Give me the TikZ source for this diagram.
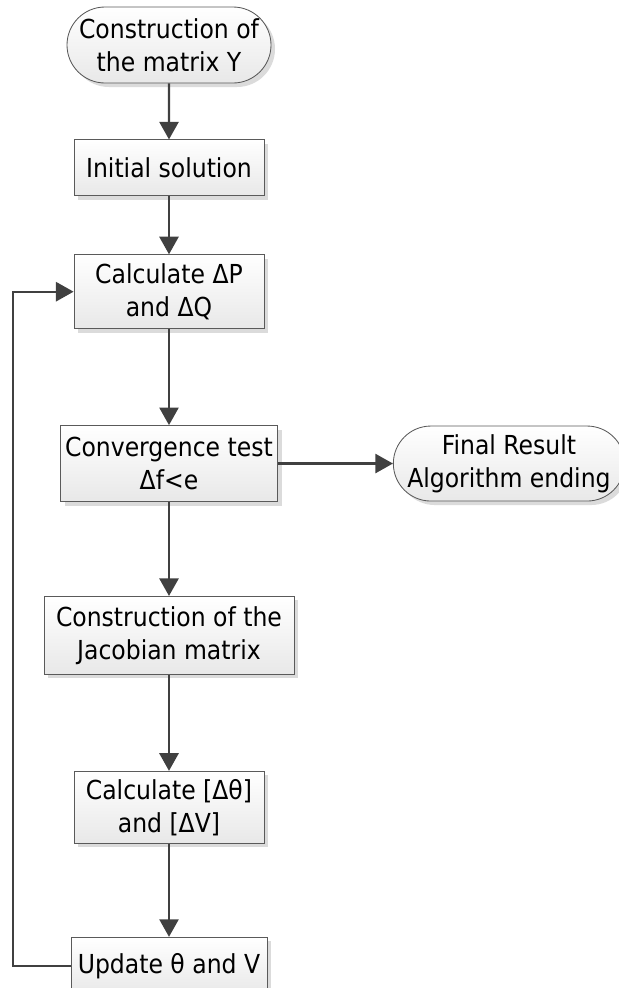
\documentclass[tikz,border=0pt]{standalone}
\usepackage{fontspec}
\setmainfont{DejaVu Sans Condensed}
\usetikzlibrary{positioning,arrows.meta,calc,shapes.misc,shadows}

\definecolor{linegray}{HTML}{404040}
\definecolor{boxgray}{HTML}{5A5A5A}

\begin{document}
\begin{tikzpicture}[
  node distance=1.4cm and 2.9cm,
  font=\fontsize{18.6}{23.5}\selectfont,
  box/.style={rectangle, draw=boxgray, line width=0.6pt, align=center,
    top color=white, bottom color=black!9,
    drop shadow={shadow xshift=0.1cm, shadow yshift=-0.1cm, fill=black!14, opacity=1},
    inner sep=0pt},
  term/.style={box, rounded rectangle},
  arrow/.style={-{Triangle[length=0.44cm, width=0.48cm]}, line width=1.5pt, draw=linegray}
]

% Frame
\useasboundingbox (0,0) rectangle (15.475,-24.7);

% Main column
\node[term, minimum width=5.1cm, minimum height=1.9cm] (start) at (4.225,-1.125) {Construction of\\the matrix Y};
\node[box, minimum width=4.75cm, minimum height=1.4cm, below=1.4cm of start] (init) {Initial solution};
\node[box, minimum width=4.75cm, minimum height=1.85cm, below=1.45cm of init] (calcpq) {Calculate ΔP\\and ΔQ};
\node[box, minimum width=5.425cm, minimum height=1.9cm, below=2.4cm of calcpq] (conv) {Convergence test\\Δf<e};
\node[box, minimum width=6.25cm, minimum height=1.95cm, below=2.35cm of conv] (jac) {Construction of the\\Jacobian matrix};
\node[box, minimum width=4.75cm, minimum height=1.8cm, below=2.4cm of jac] (calcdv) {Calculate [Δθ]\\and [ΔV]};
\node[box, minimum width=4.9cm, minimum height=1.45cm, below=2.33cm of calcdv] (update) {Update θ and V};

% End of the algorithm
\node[term, minimum width=5.65cm, minimum height=1.875cm, right=2.875cm of conv] (final) {Final Result\\Algorithm ending};

% Arrows - main column
\draw[arrow] (start) -- (init);
\draw[arrow] (init) -- (calcpq);
\draw[arrow] (calcpq) -- (conv);
\draw[arrow] (conv) -- (jac);
\draw[arrow] (jac) -- (calcdv);
\draw[arrow] (calcdv) -- (update);
\draw[arrow] (conv) -- (final);

% Iteration loop
\coordinate (loop) at ($(update.west)+(-1.45,0)$);
\draw[arrow] (update.west) -- (loop) |- (calcpq.west);

\end{tikzpicture}
\end{document}
